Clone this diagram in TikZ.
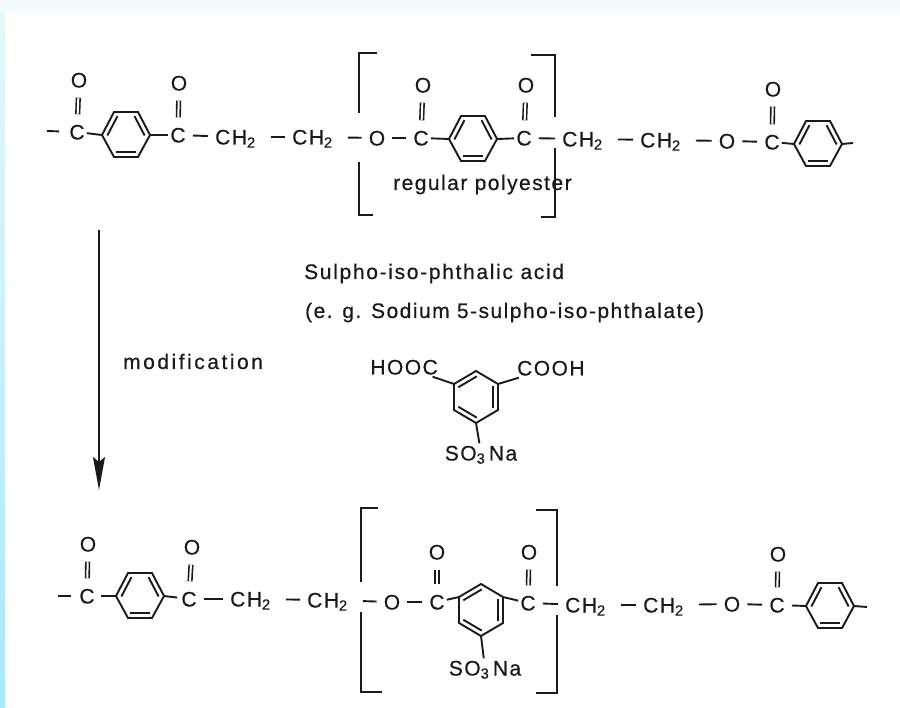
\documentclass[tikz,border=0pt]{standalone}
\usepackage{fontspec}
\usepackage{xcolor}
\usetikzlibrary{calc}
\usetikzlibrary{arrows.meta}
\setmainfont{Liberation Sans}[LetterSpace=7,FakeBold=0.5]
\definecolor{dBand}{HTML}{A8E8FC}
\definecolor{dFade}{HTML}{E6F8FB}
\definecolor{dPale}{HTML}{F4FBFB}
\definecolor{dInk}{HTML}{1A1A1A}
\tikzset{
    atom/.style={
            inner sep=2pt, % gap round the letters
            text height=15pt,
            text depth=0pt,
            font=\fontsize{21}{24}\selectfont,
            text=dInk
        },
    label/.style={
            inner sep=0pt,
            anchor=base west,
            font=\fontsize{21}{24}\selectfont,
            text=dInk
        },
    bond/.style={
            line width=1.9pt,
            dInk
        },
    atombar/.style={
            bond,
            shorten <=5pt,
            shorten >=5pt
        },
    chbar/.style={
            bond,
            shorten <=13pt,
            shorten >=5pt
        },
    dbond/.style={
            double=white,
            double distance=2pt,
            line width=1.6pt,
            dInk,
            shorten >=8pt,
            shorten <=8pt
        },
    brack/.style={
            line width=2.3pt,
            dInk
        }
}
% flat ring: #1 name, #2 x, #3 y
\newcommand{\flatring}[3]{%
    \coordinate (#1l) at (#2-24,#3);
    \coordinate (#1tl) at (#2-12,#3-23);
    \coordinate (#1tr) at (#2+12,#3-23);
    \coordinate (#1r) at (#2+24,#3);
    \coordinate (#1br) at (#2+12,#3+22);
    \coordinate (#1bl) at (#2-12,#3+22);
    \draw[bond] (#1l) -- (#1tl) -- (#1tr) -- (#1r) -- (#1br) -- (#1bl) -- cycle;
    \ringline{#1l}{#1tl}
    \ringline{#1tr}{#1r}
    \ringline{#1br}{#1bl}
}
% pointed ring: #1 name, #2 x, #3 y
\newcommand{\pointring}[3]{%
    \coordinate (#1t) at (#2,#3-26);
    \coordinate (#1tr) at (#2+22,#3-13);
    \coordinate (#1br) at (#2+22,#3+13);
    \coordinate (#1b) at (#2,#3+26);
    \coordinate (#1bl) at (#2-22,#3+13);
    \coordinate (#1tl) at (#2-22,#3-13);
    \draw[bond] (#1t) -- (#1tr) -- (#1br) -- (#1b) -- (#1bl) -- (#1tl) -- cycle;
    \ringline{#1tl}{#1t}
    \ringline{#1tr}{#1br}
    \ringline{#1b}{#1bl}
}
% second line of a ring bond
\newcommand{\ringline}[2]{%
    \draw[bond] ($(#1)!.08!(#2)!5pt!-90:(#2)$) -- ($(#2)!.08!(#1)!5pt!90:(#1)$);
}
\begin{document}
\begin{tikzpicture}[x=1pt,y=-1pt]
    \useasboundingbox (0,0) rectangle (900,708);
    % scan edges
    \fill[dPale] (0,0) rectangle (900,13);
    \shade[top color=dFade,bottom color=dBand] (0,13) rectangle (5,708);
    %
    % top chain
    \coordinate (endAl) at (47,131);
    \node[atom] (cA) at (77,132) {C};
    \node[atom] (oA) at (79,80) {O};
    \flatring{rA}{126}{135}
    \node[atom] (cB) at (178,135) {C};
    \node[atom] (oB) at (179,83) {O};
    \node[atom,anchor=west] (chA) at (213,137) {CH\textsubscript{2}};
    \node[atom,anchor=west] (chB) at (290,137) {CH\textsubscript{2}};
    \node[atom] (oC) at (377,138) {O};
    \node[atom] (cC) at (421,138) {C};
    \node[atom] (oD) at (423,85) {O};
    \flatring{rB}{473}{139}
    \node[atom] (cD) at (524,138) {C};
    \node[atom] (oE) at (526,85) {O};
    \node[atom,anchor=west] (chC) at (560,139) {CH\textsubscript{2}};
    \node[atom,anchor=west] (chD) at (638,140) {CH\textsubscript{2}};
    \node[atom] (oF) at (727,141) {O};
    \node[atom] (cE) at (772,142) {C};
    \node[atom] (oG) at (773,89) {O};
    \flatring{rC}{818}{144}
    \coordinate (endAr) at (853,143);
    \draw[bond,shorten >=8pt] (endAl) -- (cA);
    \draw[bond] (cA) -- (rAl);
    \draw[bond] (rAr) -- (cB);
    \draw[atombar] (cB) -- (chA);
    \draw[chbar] (chA) -- (chB);
    \draw[chbar] (chB) -- (oC);
    \draw[atombar] (oC) -- (cC);
    \draw[bond] (cC) -- (rBl);
    \draw[bond] (rBr) -- (cD);
    \draw[atombar] (cD) -- (chC);
    \draw[chbar] (chC) -- (chD);
    \draw[chbar] (chD) -- (oF);
    \draw[atombar] (oF) -- (cE);
    \draw[bond] (cE) -- (rCl);
    \draw[bond] (rCr) -- (endAr);
    \draw[dbond] (cA) -- (oA);
    \draw[dbond] (cB) -- (oB);
    \draw[dbond] (cC) -- (oD);
    \draw[dbond] (cD) -- (oE);
    \draw[dbond] (cE) -- (oG);
    % top brackets
    \draw[brack] (359,113) -- (359,53) -- (377,53);
    \draw[brack] (359,162) -- (359,215) -- (373,215);
    \draw[brack] (531,55) -- (555,55) -- (555,117);
    \draw[brack] (555,148) -- (555,217) -- (541,217);
    \node[label] (regular) at (393,190) {regular polyester};
    %
    % modification arrow
    \coordinate (arrowTop) at (99,230);
    \coordinate (arrowEnd) at (99,490);
    \draw[line width=1.8pt,dInk,-{Stealth[length=33pt,width=12pt,inset=5pt]}] (arrowTop) -- (arrowEnd);
    \node[label] (modif) at (123,369) {\addfontfeatures{LetterSpace=12}modification};
    \node[label] (acid) at (304,279) {\addfontfeatures{LetterSpace=8}Sulpho-iso-phthalic acid};
    \node[label] (eg) at (305,318) {(e. g. Sodium 5-sulpho-iso-phthalate)};
    %
    % middle molecule
    \pointring{rD}{476}{397}
    \node[atom,anchor=east] (hooc) at (440,367) {HOOC};
    \node[atom,anchor=west] (cooh) at (515,368) {COOH};
    \node[atom] (so) at (481,453) {SO\textsubscript{3}\,Na};
    \draw[bond] (hooc) -- (rDtl);
    \draw[bond] (cooh) -- (rDtr);
    \draw[bond] (so) -- (rDb);
    %
    % bottom chain
    \coordinate (endBl) at (58,596);
    \node[atom] (cF) at (87,596) {C};
    \node[atom] (oH) at (88,544) {O};
    \flatring{rE}{140}{596}
    \node[atom] (cG) at (189,599) {C};
    \node[atom] (oI) at (192,547) {O};
    \node[atom,anchor=west] (chE) at (228,599) {CH\textsubscript{2}};
    \node[atom,anchor=west] (chF) at (305,600) {CH\textsubscript{2}};
    \node[atom] (oJ) at (392,602) {O};
    \node[atom] (cH) at (437,602) {C};
    \node[atom] (oK) at (437,552) {O};
    \pointring{rF}{481}{610}
    \node[atom] (cI) at (528,603) {C};
    \node[atom] (oL) at (529,552) {O};
    \node[atom] (soB) at (485,668) {SO\textsubscript{3}\,Na};
    \node[atom,anchor=west] (chG) at (563,605) {CH\textsubscript{2}};
    \node[atom,anchor=west] (chH) at (641,605) {CH\textsubscript{2}};
    \node[atom] (oM) at (732,604) {O};
    \node[atom] (cJ) at (777,605) {C};
    \node[atom] (oN) at (778,554) {O};
    \flatring{rG}{830}{606}
    \coordinate (endBr) at (867,607);
    \draw[bond,shorten >=6pt] (endBl) -- (cF);
    \draw[bond,shorten <=4pt] (cF) -- (rEl);
    \draw[bond,shorten >=2pt] (rEr) -- (cG);
    \draw[atombar] (cG) -- (chE);
    \draw[chbar] (chE) -- (chF);
    \draw[chbar] (chF) -- (oJ);
    \draw[atombar] (oJ) -- (cH);
    \draw[bond] (cH) -- (rFtl);
    \draw[bond] (rFtr) -- (cI);
    \draw[atombar] (cI) -- (chG);
    \draw[chbar] (chG) -- (chH);
    \draw[chbar] (chH) -- (oM);
    \draw[atombar] (oM) -- (cJ);
    \draw[bond,shorten <=5pt] (cJ) -- (rGl);
    \draw[bond] (rGr) -- (endBr);
    \draw[bond] (rFb) -- (soB);
    \draw[dbond] (cF) -- (oH);
    \draw[dbond] (cG) -- (oI);
    \draw[dbond] (cH) -- (oK);
    \draw[dbond] (cI) -- (oL);
    \draw[dbond] (cJ) -- (oN);
    % bottom brackets
    \draw[brack] (361,582) -- (361,508) -- (378,508);
    \draw[brack] (361,612) -- (361,692) -- (382,692);
    \draw[brack] (536,510) -- (557,510) -- (557,586);
    \draw[brack] (557,615) -- (557,693) -- (536,693);
\end{tikzpicture}
\end{document}
